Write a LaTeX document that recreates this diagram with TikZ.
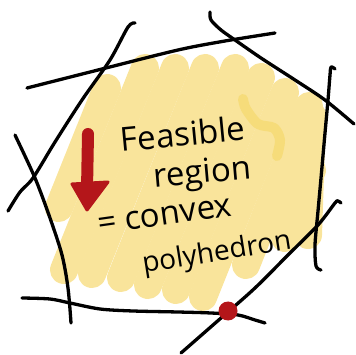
\documentclass[tikz,border=0pt]{standalone}
\usepackage{fontspec}
\setmainfont{Open Sans}
\definecolor{hlyellow}{RGB}{249,228,155}
\definecolor{hldark}{RGB}{246,220,122}
\definecolor{redmark}{RGB}{180,22,26}
\begin{document}
\begin{tikzpicture}[x=1pt,y=-1pt,
  ink/.style={line width=3.3pt, line cap=round, line join=round, black},
  hl/.style={line width=28pt, line cap=round, hlyellow},
  txt/.style={anchor=base, inner sep=0pt, font=\fontsize{33}{36}\selectfont}]
\useasboundingbox (0,0) rectangle (356,355);
% yellow highlighter strokes
\draw[hl] (58.8,208) -- (107,88);
\draw[hl] (64,270) -- (145,68);
\draw[hl] (92,274) -- (175,68);
\draw[hl] (121,278) -- (205,68);
\draw[hl] (148,285) -- (235,68);
\draw[hl] (176,290) -- (261,77);
\draw[hl] (203,297) -- (285,92);
\draw[hl] (246,265) -- (309,106);
\draw[hl] (285,238) -- (312,170);
\draw[hl] (308,235) -- (312,115);
\draw[line width=10pt, hldark, line cap=round, line join=round]
  plot[smooth] coordinates {(243,99) (246,109) (258,124) (274,128) (280,140) (277,156)};
% black lines
\draw[ink] plot[smooth] coordinates {(27,88) (102,69) (178,50) (225,41) (275,33)};
\draw[ink] plot[smooth] coordinates {(135,23) (128,27) (110,60) (82,100) (55,142) (33,178) (20,192) (8,211)};
\draw[ink] plot[smooth] coordinates {(15,135) (35,178) (50,218) (62,255) (68,288) (71,323)};
\draw[ink] plot[smooth] coordinates {(22,298) (50,299) (70,303) (100,309) (133,311) (178,312) (211,313) (238,315) (255,320) (265,323)};
\draw[ink] plot[smooth] coordinates {(181,353) (221,318) (255,288) (288,255) (318,225) (335,203) (338,201) (341,203)};
\draw[ink] plot[smooth] coordinates {(335,69) (331,67) (330,75) (328,100) (325,133) (321,178) (318,211) (315,245) (316,266) (321,270)};
\draw[ink] plot[smooth] coordinates {(210,12) (211,20) (221,30) (235,40) (261,58) (295,80) (325,100) (354,124)};
% red marks
\fill[redmark] (228,311) circle (9.5);
\draw[redmark, line width=12pt, line cap=round] (88,134) -- (87,190);
\filldraw[redmark, line width=3pt, line join=round] (72,184) -- (108,182) -- (87,210) -- cycle;
% text
\node[txt, rotate=5.5] (t1) at (184,146) {Feasible};
\node[txt, rotate=5] (t2) at (203,183) {region};
\node[txt, rotate=8] (t3) at (166,225) {= convex};
\node[txt, rotate=9, font=\fontsize{28}{32}\selectfont] (t4) at (218,261) {polyhedron};
\end{tikzpicture}
\end{document}
